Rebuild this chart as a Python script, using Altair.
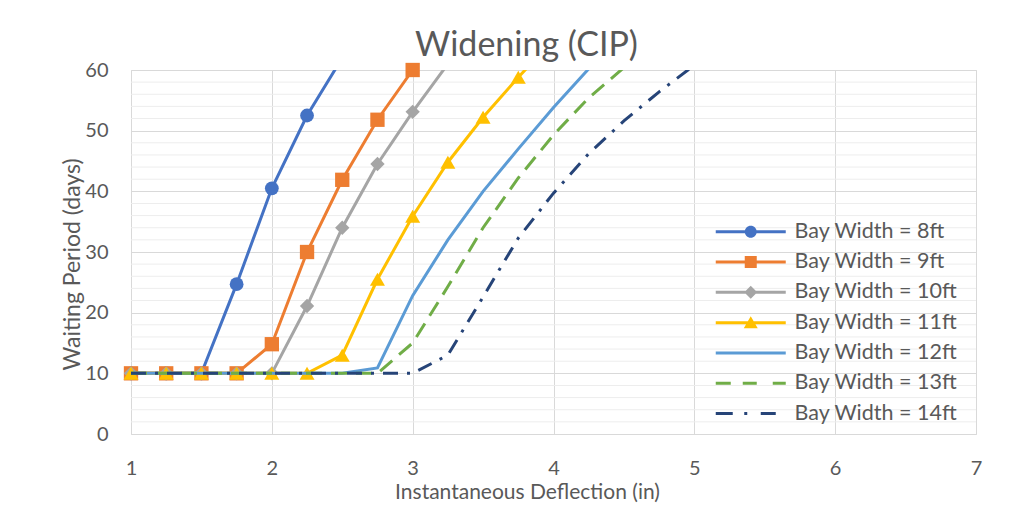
import altair as alt
import pandas as pd

# ---------------- data ----------------
series_names = ["Bay Width = 8ft", "Bay Width = 9ft", "Bay Width = 10ft", "Bay Width = 11ft",
                "Bay Width = 12ft", "Bay Width = 13ft", "Bay Width = 14ft"]

x_8 = [1.0, 1.25, 1.5, 1.75, 2.0, 2.25, 2.5]
y_8 = [10, 10, 10, 24.7, 40.5, 52.5, 62.0]

x_9 = [1.0, 1.25, 1.5, 1.75, 2.0, 2.25, 2.5, 2.75, 3.0]
y_9 = [10, 10, 10, 10, 14.8, 30.0, 41.9, 51.8, 60.0]

x_10 = [1.0, 1.25, 1.5, 1.75, 2.0, 2.25, 2.5, 2.75, 3.0, 3.25]
y_10 = [10, 10, 10, 10, 10, 21.1, 34.0, 44.5, 53.1, 61.0]

x_11 = [1.0, 1.25, 1.5, 1.75, 2.0, 2.25, 2.5, 2.75, 3.0, 3.25, 3.5, 3.75, 4.0]
y_11 = [10, 10, 10, 10, 10, 10, 13.0, 25.5, 35.9, 44.8, 52.2, 58.8, 65.0]

x_12 = [1.0, 1.25, 1.5, 1.75, 2.0, 2.25, 2.5, 2.75, 3.0, 3.25, 3.5, 3.75, 4.0, 4.25]
y_12 = [10, 10, 10, 10, 10, 10, 10, 10.9, 22.8, 32.0, 40.0, 47.0, 53.8, 60.2]

x_13 = [1.0, 1.25, 1.5, 1.75, 2.0, 2.25, 2.5, 2.75, 3.0, 3.25, 3.5, 3.75, 4.0, 4.25, 4.5]
y_13 = [10, 10, 10, 10, 10, 10, 10, 10, 15.0, 24.3, 34.0, 42.2, 49.3, 55.4, 60.4]

x_14 = [1.0, 1.25, 1.5, 1.75, 2.0, 2.25, 2.5, 2.75, 3.0, 3.25, 3.5, 3.75, 4.0, 4.25, 4.5, 4.75, 5.0]
y_14 = [10, 10, 10, 10, 10, 10, 10, 10, 10, 13.0, 22.6, 32.3, 39.7, 46.2, 51.6, 56.4, 60.8]

x_ticks = [1, 2, 3, 4, 5, 6, 7]
y_ticks = [0, 10, 20, 30, 40, 50, 60]
minor_grid = [v for v in range(0, 61, 2) if v % 10 != 0]

# ---------------- styles ----------------
colors = ["#4472C4", "#ED7D31", "#A5A5A5", "#FFC000", "#5B9BD5", "#70AD47", "#264478"]
dashes = [None, None, None, None, None, [16, 9], [15, 9, 3, 9]]
markers = ["circle", "square", "diamond", "triangle-up", None, None, None]
marker_sizes = [190, 205, 205, 225, 0, 0, 0]

LINE = "M-3.5,-0.15H3.5V0.15H-3.5Z"
legend_paths = [
    LINE + " M0.6,0A0.6,0.6 0 1 1 -0.6,0A0.6,0.6 0 1 1 0.6,0Z",
    LINE + " M-0.6,-0.6H0.6V0.6H-0.6Z",
    LINE + " M0,-0.65L0.65,0L0,0.65L-0.65,0Z",
    LINE + " M0,-0.65L0.7,0.55L-0.7,0.55Z",
    LINE,
    "M-3.5,-0.15H-2.0V0.15H-3.5Z M-0.8,-0.15H0.6V0.15H-0.8Z M2.2,-0.15H3.5V0.15H2.2Z",
    "M-3.5,-0.15H-1.8V0.15H-3.5Z M-0.65,-0.15H-0.35V0.15H-0.65Z M1.0,-0.15H2.5V0.15H1.0Z",
]

xs = [x_8, x_9, x_10, x_11, x_12, x_13, x_14]
ys = [y_8, y_9, y_10, y_11, y_12, y_13, y_14]
rows = []
for name, xv, yv in zip(series_names, xs, ys):
    for a, b in zip(xv, yv):
        rows.append({"series": name, "x": a, "y": b})
df = pd.DataFrame(rows)
minor_df = pd.DataFrame({"y": minor_grid})

FONT = "Lato"
TXT = "#595959"
GRID = "#D9D9D9"

x_axis = alt.Axis(values=x_ticks, grid=True, gridColor=GRID, gridWidth=1, domain=False, ticks=False,
                  labelFontSize=20, labelColor=TXT, labelFont=FONT, labelPadding=24, labelFlush=False,
                  title="Instantaneous Deflection (in)", titleFontSize=21, titleColor=TXT,
                  titleFont=FONT, titleFontWeight="normal", titleX=396, titleY=64,
                  titleBaseline="alphabetic", titleAlign="center")
y_axis = alt.Axis(values=y_ticks, grid=True, gridColor=GRID, gridWidth=1, domain=False, ticks=False,
                  labelFontSize=20, labelColor=TXT, labelFont=FONT, labelPadding=23,
                  title="Waiting Period (days)", titleFontSize=23, titleColor=TXT, titleFont=FONT,
                  titleFontWeight="normal", titleAngle=-90, titleX=-52, titleY=194,
                  titleBaseline="alphabetic", titleAlign="center")

X = alt.X("x:Q", scale=alt.Scale(domain=[1, 7], nice=False, zero=False), axis=x_axis)
Y = alt.Y("y:Q", scale=alt.Scale(domain=[0, 60], nice=False), axis=y_axis)

layers = []
layers.append(
    alt.Chart(minor_df).mark_rule(color="#EDEDED", strokeWidth=1).encode(y=Y)
)

for i, name in enumerate(series_names):
    line_kwargs = dict(clip=True, strokeWidth=3, color=colors[i])
    if dashes[i]:
        line_kwargs["strokeDash"] = dashes[i]
    layers.append(
        alt.Chart(df).transform_filter(alt.datum.series == name)
        .mark_line(**line_kwargs).encode(x=X, y=Y)
    )
    if markers[i]:
        layers.append(
            alt.Chart(df).transform_filter((alt.datum.series == name) & (alt.datum.y <= 60))
            .mark_point(shape=markers[i], filled=True, size=marker_sizes[i], opacity=1,
                        color=colors[i])
            .encode(x=X, y=Y)
        )

leg = alt.Legend(orient="none", legendX=609, legendY=151, title=None, labelFont=FONT,
                 labelFontSize=21.5, labelColor=TXT, labelLimit=400, symbolSize=400,
                 symbolStrokeWidth=0, labelOffset=33, rowPadding=7.3, padding=0)
layers.append(
    alt.Chart(df).transform_filter("datum.y < -1000")
    .mark_point(filled=True, opacity=1)
    .encode(x=X, y=Y,
            color=alt.Color("series:N", scale=alt.Scale(domain=series_names, range=colors),
                            legend=leg),
            shape=alt.Shape("series:N", scale=alt.Scale(domain=series_names, range=legend_paths),
                            legend=leg))
)

chart = alt.layer(*layers).properties(
    width=845, height=364,
    title=alt.TitleParams("Widening (CIP)", font=FONT, fontSize=34, fontWeight="normal",
                          color=TXT, anchor="middle", dx=-27, dy=34, offset=4,
                          baseline="alphabetic"),
    autosize=alt.AutoSizeParams(type="none"),
    padding={"left": 131, "top": 70, "right": 52, "bottom": 74},
).configure_view(stroke=None).configure(background="white")

chart.save("out.html", embed_options={"renderer": "svg", "actions": False})
